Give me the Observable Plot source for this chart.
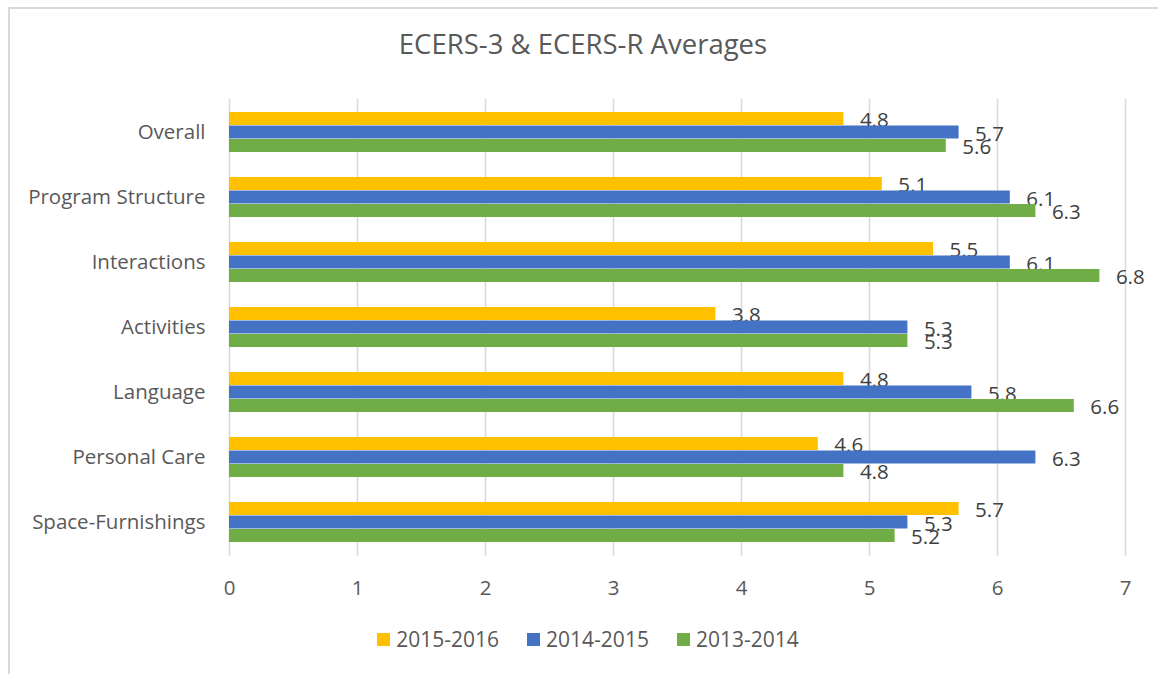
<!DOCTYPE html>
<html>
<head>
<meta charset="utf-8">
<script src="https://cdn.jsdelivr.net/npm/d3@7"></script>
<script src="https://cdn.jsdelivr.net/npm/@observablehq/plot@0.6"></script>
<style>
  html, body { margin: 0; padding: 0; background: #fff; }
  body { width: 1158px; height: 674px; position: relative; overflow: hidden; font-family: "Open Sans", sans-serif; }
  #frame { position: absolute; left: 8px; top: 7px; width: 1200px; height: 700px; border-top: 2px solid #d9d9d9; border-left: 2px solid #d9d9d9; box-sizing: border-box; }
  #title { position: absolute; left: 0; width: 1166px; top: 26px; text-align: center; font-size: 27.5px; color: #595959; line-height: 36px; }
  #chart { position: absolute; left: 0; top: 80px; }
  #legend { position: absolute; left: 0; width: 1176px; top: 625px; display: flex; justify-content: center; gap: 28px; font-size: 21px; color: #595959; line-height: 28px; }
  .item { display: flex; align-items: center; gap: 6px; }
  .sw { width: 13px; height: 13px; display: inline-block; }
</style>
</head>
<body>
<div id="frame"></div>
<div id="title">ECERS-3 &amp; ECERS-R Averages</div>
<div id="chart"></div>
<div id="legend"></div>
<script>
const categories = ["Overall", "Program Structure", "Interactions", "Activities", "Language", "Personal Care", "Space-Furnishings"];
const seriesNames = ["2015-2016", "2014-2015", "2013-2014"];
const seriesColors = ["#FFC000", "#4472C4", "#70AD47"];
const values2015_2016 = [4.8, 5.1, 5.5, 3.8, 4.8, 4.6, 5.7];
const values2014_2015 = [5.7, 6.1, 6.1, 5.3, 5.8, 6.3, 5.3];
const values2013_2014 = [5.6, 6.3, 6.8, 5.3, 6.6, 4.8, 5.2];
const xTicks = [0, 1, 2, 3, 4, 5, 6, 7];

const seriesValues = [values2015_2016, values2014_2015, values2013_2014];
const data = [];
seriesNames.forEach((s, i) => categories.forEach((c, j) => data.push({category: c, series: s, value: seriesValues[i][j]})));

const bandH = 40.5, barH = bandH / 3;
const marks = [
  Plot.ruleX(xTicks, {stroke: "#d9d9d9", strokeWidth: 1.6})
];
seriesNames.forEach((s, i) => {
  const d = data.filter(r => r.series === s);
  marks.push(Plot.barX(d, {
    x: "value", y: "category", fill: seriesColors[i],
    insetTop: i * barH, insetBottom: (2 - i) * barH
  }));
  marks.push(Plot.text(d, {
    x: "value", y: "category", text: r => r.value.toFixed(1),
    dx: 16, dy: (i - 1) * barH + 1.5, textAnchor: "start",
    fill: "#404040", fontSize: 20.5
  }));
});

const chart = Plot.plot({
  width: 1158,
  height: 530,
  marginLeft: 229,
  marginRight: 33,
  marginTop: 18.6,
  marginBottom: 54.5,
  style: {fontFamily: "Open Sans, sans-serif", fontSize: "20.5px", color: "#595959", background: "transparent"},
  x: {domain: [0, 7], ticks: xTicks, tickFormat: "d", tickSize: 0, tickPadding: 24, label: null},
  y: {domain: categories, paddingInner: 0.38, paddingOuter: 0.19, tickSize: 0, tickPadding: 24, label: null},
  marks
});
document.getElementById("chart").appendChild(chart);

const legend = document.getElementById("legend");
seriesNames.forEach((s, i) => {
  const item = document.createElement("div");
  item.className = "item";
  const sw = document.createElement("span");
  sw.className = "sw";
  sw.style.background = seriesColors[i];
  const t = document.createElement("span");
  t.textContent = s;
  item.appendChild(sw);
  item.appendChild(t);
  legend.appendChild(item);
});
</script>
</body>
</html>
